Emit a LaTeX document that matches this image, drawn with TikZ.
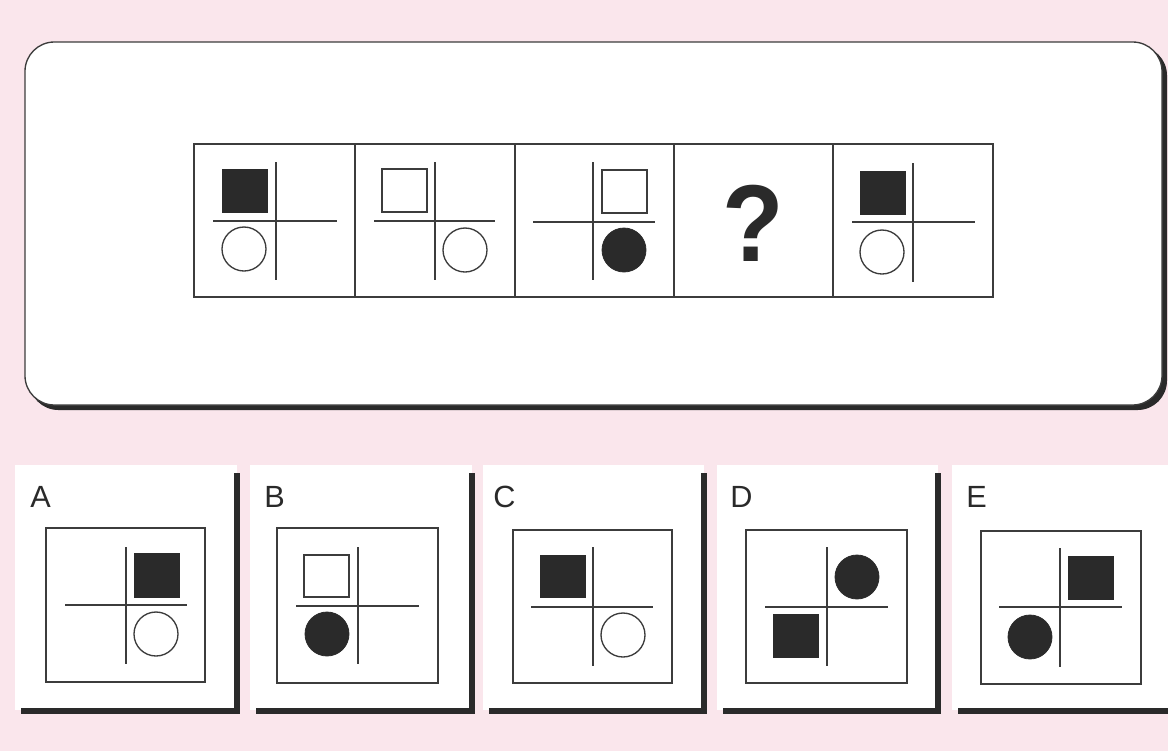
\documentclass[tikz,border=0pt]{standalone}
\usepackage{fontspec}
\setmainfont{Liberation Sans}
\definecolor{bgpink}{RGB}{250,230,236}
\definecolor{ink}{RGB}{42,42,42}
\definecolor{lineink}{RGB}{60,60,60}
\tikzset{
  gridline/.style={draw=lineink, line width=1pt},
  crossline/.style={draw=lineink, line width=0.85pt},
  openshape/.style={draw=lineink, line width=1pt, fill=white},
  solidshape/.style={draw=ink, line width=0.6pt, fill=ink},
  lettr/.style={inner sep=0pt, anchor=base west, font=\fontsize{23}{23}\selectfont, text=ink},
  shadowline/.style={draw=ink, line width=3.8pt},
}
\newcommand\crossat[6]{% x1 x2 y1 y2 cx cy
  \draw[crossline] (#1,#6) -- (#2,#6);
  \draw[crossline] (#5,#3) -- (#5,#4);
}
\newcommand\ansbox[2]{%
  \fill[white] (#1,465) rectangle (#2,710);
  \draw[shadowline] (#1+6,711) -- (#2,711) -- (#2,473);
}
\begin{document}
\begin{tikzpicture}[x=0.75pt,y=-0.75pt]
\useasboundingbox (0,0) rectangle (1168,751);
\fill[bgpink] (0,0) rectangle (1168,751);
% top panel
\fill[ink, rounded corners=22pt] (29,46) rectangle (1167,410);
\draw[fill=white, draw=lineink, line width=1pt, rounded corners=22pt] (25,42) rectangle (1162,405);
% sequence cells
\draw[gridline] (194,144) rectangle (993,297);
\foreach \xx in {355,515,674,833} \draw[gridline] (\xx,144) -- (\xx,297);
% cell 1
\crossat{213}{337}{162}{280}{276}{221}
\fill[solidshape] (222,169) rectangle (267,212);
\draw[openshape] (244,249) circle[radius=16.5pt];
% cell 2
\crossat{374}{495}{162}{280}{435}{221}
\draw[openshape] (382,169) rectangle (427,212);
\draw[openshape] (465,250) circle[radius=16.5pt];
% cell 3
\crossat{533}{655}{162}{280}{593}{222}
\draw[openshape] (602,170) rectangle (647,213);
\fill[solidshape] (624,250) circle[radius=16.5pt];
% cell 4
\node[inner sep=0pt, text=ink, font=\fontsize{82}{82}\selectfont\bfseries, xscale=0.92] (qmark) at (753,223) {?};
% cell 5
\crossat{852}{975}{163}{282}{913}{222}
\fill[solidshape] (860,171) rectangle (905,214);
\draw[openshape] (882,252) circle[radius=16.5pt];
% answer boxes
\ansbox{15}{237}
\ansbox{250}{472}
\ansbox{483}{704}
\ansbox{717}{938}
\ansbox{952}{1176}
\node[lettr] (labA) at (30,507) {A};
\node[lettr] (labB) at (264,507) {B};
\node[lettr] (labC) at (493,507) {C};
\node[lettr] (labD) at (730,507) {D};
\node[lettr] (labE) at (966,507) {E};
% A
\draw[gridline] (46,528) rectangle (205,682);
\crossat{65}{187}{547}{664}{126}{605}
\fill[solidshape] (134,553) rectangle (179,597);
\draw[openshape] (156,634) circle[radius=16.5pt];
% B
\draw[gridline] (277,528) rectangle (438,683);
\crossat{296}{419}{547}{664}{358}{606}
\draw[openshape] (304,555) rectangle (349,597);
\fill[solidshape] (327,634) circle[radius=16.5pt];
% C
\draw[gridline] (513,530) rectangle (672,683);
\crossat{531}{653}{547}{666}{593}{607}
\fill[solidshape] (540,555) rectangle (585,597);
\draw[openshape] (623,635) circle[radius=16.5pt];
% D
\draw[gridline] (746,530) rectangle (907,683);
\crossat{765}{888}{547}{666}{827}{607}
\fill[solidshape] (857,577) circle[radius=16.5pt];
\fill[solidshape] (773,614) rectangle (818,657);
% E
\draw[gridline] (981,531) rectangle (1141,684);
\crossat{999}{1122}{548}{667}{1060}{607}
\fill[solidshape] (1068,556) rectangle (1113,599);
\fill[solidshape] (1030,637) circle[radius=16.5pt];
\end{tikzpicture}
\end{document}
